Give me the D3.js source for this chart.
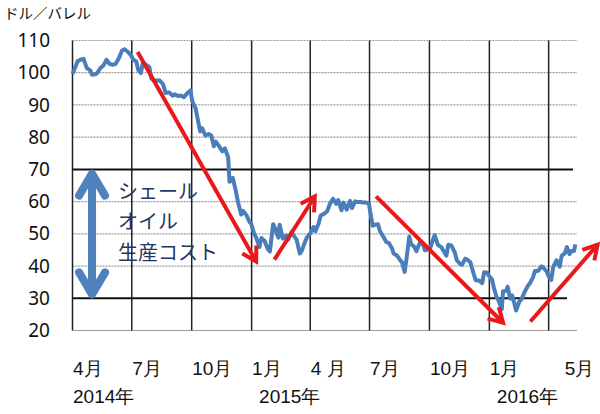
<!DOCTYPE html>
<html><head><meta charset="utf-8">
<script src="https://cdn.jsdelivr.net/npm/d3@7"></script>
<style>
html,body{margin:0;padding:0;background:#fff;}
svg{display:block;font-family:"Noto Sans CJK JP","Noto Sans",sans-serif;}
</style></head>
<body><svg id="c" width="600" height="414"></svg>
<script>
// ---- data ----
const priceDates = ["2014-04-01","2014-04-04","2014-04-09","2014-04-14","2014-04-18","2014-04-23","2014-04-28","2014-05-01","2014-05-06","2014-05-09","2014-05-14","2014-05-19","2014-05-23","2014-05-28","2014-06-02","2014-06-06","2014-06-11","2014-06-16","2014-06-20","2014-06-25","2014-06-30","2014-07-03","2014-07-08","2014-07-11","2014-07-15","2014-07-18","2014-07-23","2014-07-28","2014-07-31","2014-08-05","2014-08-08","2014-08-13","2014-08-18","2014-08-22","2014-08-27","2014-09-02","2014-09-05","2014-09-10","2014-09-15","2014-09-19","2014-09-24","2014-09-29","2014-10-02","2014-10-07","2014-10-10","2014-10-14","2014-10-17","2014-10-22","2014-10-27","2014-10-31","2014-11-04","2014-11-07","2014-11-12","2014-11-17","2014-11-21","2014-11-26","2014-11-28","2014-12-03","2014-12-08","2014-12-11","2014-12-16","2014-12-19","2014-12-24","2014-12-29","2014-12-31",
"2015-01-05","2015-01-08","2015-01-13","2015-01-16","2015-01-21","2015-01-26","2015-01-29","2015-02-03","2015-02-06","2015-02-11","2015-02-13","2015-02-18","2015-02-23","2015-02-26","2015-03-03","2015-03-06","2015-03-11","2015-03-16","2015-03-19","2015-03-24","2015-03-27","2015-04-01","2015-04-06","2015-04-09","2015-04-14","2015-04-17","2015-04-22","2015-04-27","2015-05-01","2015-05-06","2015-05-11","2015-05-14","2015-05-19","2015-05-22","2015-05-27","2015-06-01","2015-06-04","2015-06-09","2015-06-12","2015-06-17","2015-06-22","2015-06-25","2015-06-30","2015-07-02","2015-07-06","2015-07-09","2015-07-14","2015-07-17","2015-07-22","2015-07-27","2015-07-31","2015-08-04","2015-08-07","2015-08-12","2015-08-17","2015-08-20","2015-08-24","2015-08-27","2015-08-31","2015-09-03","2015-09-08","2015-09-11","2015-09-16","2015-09-21","2015-09-24","2015-09-29","2015-10-02","2015-10-07","2015-10-09","2015-10-14","2015-10-19","2015-10-22","2015-10-27","2015-10-30","2015-11-04","2015-11-09","2015-11-12","2015-11-17","2015-11-20","2015-11-25","2015-11-30","2015-12-03","2015-12-08","2015-12-11","2015-12-16","2015-12-21","2015-12-24","2015-12-29","2015-12-31",
"2016-01-05","2016-01-08","2016-01-12","2016-01-15","2016-01-20","2016-01-22","2016-01-27","2016-01-29","2016-02-02","2016-02-05","2016-02-09","2016-02-11","2016-02-16","2016-02-19","2016-02-24","2016-02-29","2016-03-03","2016-03-08","2016-03-11","2016-03-16","2016-03-21","2016-03-24","2016-03-29","2016-04-01","2016-04-05","2016-04-08","2016-04-13","2016-04-18","2016-04-21","2016-04-26","2016-04-29","2016-05-03","2016-05-06","2016-05-10","2016-05-12"];
const priceValues = [99.7,101.1,103.6,104.1,104.3,101.4,100.8,99.4,99.5,99.9,101.5,102.4,104.0,102.7,102.5,102.7,104.4,106.9,107.3,106.5,105.4,104.1,103.5,100.8,99.9,103.1,102.4,101.7,98.2,97.4,97.6,97.6,96.4,93.7,93.9,92.9,93.3,92.8,92.9,92.4,93.6,94.5,91.0,88.9,85.8,81.8,82.8,80.5,81.0,80.5,77.2,78.6,77.2,75.6,76.5,73.7,66.2,67.4,63.1,59.9,56.0,57.1,55.8,53.6,53.3,
50.0,48.8,45.9,48.7,47.8,45.2,44.5,53.0,51.7,48.8,52.8,48.5,49.5,48.2,50.5,49.6,48.2,43.9,44.7,47.5,48.9,50.1,52.1,50.8,53.3,55.7,56.2,57.0,59.2,60.9,59.3,60.5,57.3,59.7,57.5,60.2,58.0,60.1,59.9,59.9,59.7,59.7,59.5,56.9,52.5,52.8,53.0,50.9,49.2,47.4,47.1,45.7,43.9,43.3,41.9,41.1,38.2,42.6,49.2,46.8,45.9,44.6,47.2,46.7,44.9,45.2,45.5,48.5,49.6,46.6,45.9,44.9,43.2,46.6,46.3,44.2,41.8,40.7,40.4,42.3,41.7,41.1,37.5,35.6,35.5,34.7,38.1,37.9,37.0,
35.9,33.2,30.4,29.4,26.6,32.2,32.3,33.6,29.9,30.9,27.9,26.2,29.0,29.6,31.9,33.8,34.6,36.5,38.5,38.5,39.9,39.5,38.3,36.8,35.7,39.7,41.8,39.8,43.2,44.0,45.9,43.7,44.7,44.7,46.7];

const yTicks = [20,30,40,50,60,70,80,90,100,110];
const refLevels = [70,30];
const gridDates = ["2014-04-01","2014-07-01","2014-10-01","2015-01-01","2015-04-01","2015-07-01","2015-10-01","2016-01-01","2016-04-01"];
const monthLabelDates = ["2014-04-01","2014-07-01","2014-10-01","2015-01-01","2015-04-01","2015-07-01","2015-10-01","2016-01-01","2016-05-01"];
const monthLabels = ["4月","7月","10月","1月","4 月","7月","10月","1月","5月"];
const yearLabelDates = ["2014-04-01","2015-01-01","2016-01-01"];
const yearLabels = ["2014年","2015年","2016年"];
const unitLabel = "ドル／バレル";
const noteLines = ["シェール","オイル","生産コスト"];
// trend arrows: [startDate, startValue, endDate, endValue]
const trendArrows = [
  ["2014-07-10",106.4,"2015-01-08",41.4],
  ["2015-02-05",42.0,"2015-04-08",61.6],
  ["2015-07-11",61.6,"2016-01-22",22.4],
  ["2016-03-04",22.8,"2016-06-15",46.6]
];
const costRange = {date:"2014-05-01", high:69.3, low:30.6};

// ---- scales ----
const P = d3.timeParse("%Y-%m-%d");
const x = d3.scaleTime().domain([P("2014-04-01"), P("2016-05-13")]).range([72.5, 576]);
const y = d3.scaleLinear().domain([20,110]).range([330.5, 40.5]);
const svg = d3.select("#c");

// horizontal gray grid
svg.append("g").selectAll("line").data(yTicks.filter(v=>!refLevels.includes(v)))
  .join("line")
  .attr("x1", x.range()[0]).attr("x2", x.range()[1]+1)
  .attr("y1", d=>y(d)).attr("y2", d=>y(d))
  .attr("stroke", "#9a9a9a").attr("stroke-width", 1.2)
  .attr("stroke-dasharray", d => d===20 ? null : "2,1");

// vertical black grid
svg.append("g").selectAll("line").data(gridDates)
  .join("line")
  .attr("x1", d=>x(P(d))).attr("x2", d=>x(P(d)))
  .attr("y1", y(110)).attr("y2", y(20))
  .attr("stroke", "#222").attr("stroke-width", 1.5);

// reference lines (70 / 30)
svg.append("g").selectAll("line").data(refLevels)
  .join("line")
  .attr("x1", x.range()[0])
  .attr("x2", d => d===70 ? x.range()[1]-3 : x.range()[1]-9)
  .attr("y1", d=>y(d)).attr("y2", d=>y(d))
  .attr("stroke", "#111").attr("stroke-width", 2);

// y axis labels
const yAxis = d3.axisLeft(y).tickValues(yTicks).tickSize(0).tickPadding(0).tickFormat(d3.format("d"));
const gy = svg.append("g").attr("transform","translate(50,0)").call(yAxis);
gy.select(".domain").remove();
gy.selectAll("text").attr("font-size", 19).attr("fill","#111")
  .attr("font-family","'Noto Sans','Noto Sans CJK JP',sans-serif");

// x month labels
const xAxis = d3.axisBottom(x).tickValues(monthLabelDates.map(P)).tickSize(0)
  .tickFormat((d,i)=>monthLabels[i]);
const gx = svg.append("g").attr("transform","translate(0,358)").call(xAxis);
gx.select(".domain").remove();
gx.selectAll("text").attr("font-size", 19).attr("fill","#111")
  .attr("text-anchor","start").attr("dx", (d,i)=> i===8 ? -4 : 0);

const xYear = d3.axisBottom(x).tickValues(yearLabelDates.map(P)).tickSize(0)
  .tickFormat((d,i)=>yearLabels[i]);
const gx2 = svg.append("g").attr("transform","translate(0,386)").call(xYear);
gx2.select(".domain").remove();
gx2.selectAll("text").attr("font-size", 19).attr("fill","#111")
  .attr("text-anchor","start").attr("dx", (d,i)=> i===0 ? 0 : 7);

// unit label
svg.append("text").attr("x", 4).attr("y", 19).attr("font-size", 14.5).attr("fill","#111").text(unitLabel);

// price line
const pts = priceDates.map((d,i)=>({d:P(d), v:priceValues[i]}));
svg.append("path").datum(pts)
  .attr("fill","none").attr("stroke","#4a7ebb").attr("stroke-width",4)
  .attr("stroke-linejoin","round")
  .attr("d", d3.line().x(p=>x(p.d)).y(p=>y(p.v)));

// red trend arrows
const red = "#e8191b";
const ga = svg.append("g");
trendArrows.forEach(a=>{
  const x1=x(P(a[0])), y1=y(a[1]), x2=x(P(a[2])), y2=y(a[3]);
  const ang = Math.atan2(y2-y1, x2-x1), L=16, h=Math.PI/6;
  ga.append("line").attr("x1",x1).attr("y1",y1).attr("x2",x2).attr("y2",y2)
    .attr("stroke",red).attr("stroke-width",4);
  ga.append("path")
    .attr("d", `M${x2-L*Math.cos(ang-h)},${y2-L*Math.sin(ang-h)}L${x2},${y2}L${x2-L*Math.cos(ang+h)},${y2-L*Math.sin(ang+h)}`)
    .attr("fill","none").attr("stroke",red).attr("stroke-width",4).attr("stroke-linejoin","miter");
});

// blue double arrow (cost range)
const bx = x(P(costRange.date)), yt = y(costRange.high), yb = y(costRange.low);
const blue2 = "#4f81bd";
const gb = svg.append("g").attr("fill","none").attr("stroke",blue2).attr("stroke-width",8)
  .attr("stroke-linecap","round").attr("stroke-linejoin","round");
gb.append("line").attr("x1",bx).attr("x2",bx).attr("y1",yt+3).attr("y2",yb-3);
gb.append("path").attr("d",`M${bx-13},${yt+24}L${bx},${yt+2}L${bx+13},${yt+24}`);
gb.append("path").attr("d",`M${bx-13},${yb-24}L${bx},${yb-2}L${bx+13},${yb-24}`);

// note text
const noteVals = [63.1, 53.8, 44.2];
svg.append("g").selectAll("text").data(noteLines).join("text")
  .attr("x", x(P("2014-06-10"))).attr("y", (d,i)=>y(noteVals[i]))
  .attr("dy","0.36em").attr("font-size",20).attr("fill","#1f3864").text(d=>d);
</script></body></html>
